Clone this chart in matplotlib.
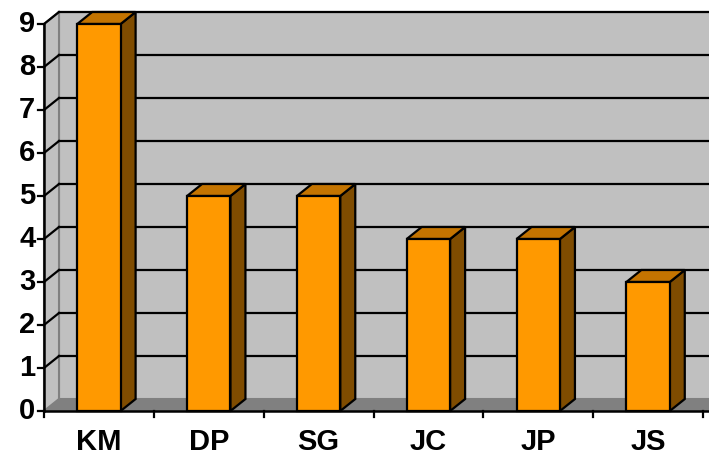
import matplotlib
matplotlib.use('Agg')
import matplotlib.pyplot as plt
from matplotlib.patches import Polygon

plt.rcParams['font.family'] = ['Liberation Sans', 'DejaVu Sans']

# data
names = ['KM', 'DP', 'SG', 'JC', 'JP', 'JS']
values = [9, 5, 5, 4, 4, 3]
yticks = list(range(0, 10))

# colours (Excel 97 style)
front_col = '#FF9900'
top_col = '#C47400'
side_col = '#7F4C00'
wall_col = '#C0C0C0'
floor_col = '#808080'

W, H = 709, 459
fig = plt.figure(figsize=(W / 100, H / 100), dpi=100)
# axes box = front plane of the 3d chart (pixels 44..703 x 24..411)
ax = fig.add_axes([44 / W, (H - 411) / H, 659 / W, 387 / H])
n = len(names)
ymax = 9
ax.set_xlim(0, n)
ax.set_ylim(0, ymax)
ax.axis('off')

# depth offset in data units (15px right, 12px up)
dx = 15 / (659 / n)
dy = 12 / (387 / ymax)

def poly(pts, fc, ec='black', lw=1.6, z=1):
    p = Polygon(pts, closed=True, facecolor=fc, edgecolor=ec, linewidth=lw,
                zorder=z, clip_on=False, joinstyle='miter')
    ax.add_patch(p)

# back wall
poly([(dx, dy), (n + dx + 1, dy), (n + dx + 1, ymax + dy), (dx, ymax + dy)],
     wall_col, ec='#808080', lw=1.5, z=0)
# left wall
poly([(0, 0), (dx, dy), (dx, ymax + dy), (0, ymax)], wall_col, ec='#808080', lw=1.5, z=0)
# floor
poly([(0, 0), (n + 1, 0), (n + 1 + dx, dy), (dx, dy)], floor_col, ec='none', lw=0, z=0.5)

# gridlines on back wall + slanted lines on left wall
for v in yticks[1:]:
    ax.plot([dx, n + dx + 1], [v + dy, v + dy], color='black', lw=1.6, zorder=0.8, clip_on=False)
    ax.plot([0, dx], [v, v + dy], color='black', lw=1.6, zorder=0.8, clip_on=False)

# bars
bw = 0.395
for i, v in enumerate(values):
    x0 = i + 0.5 - bw / 2
    x1 = x0 + bw
    poly([(x1, 0), (x1 + dx, dy), (x1 + dx, v + dy), (x1, v)], side_col, z=2)
    poly([(x0, v), (x1, v), (x1 + dx, v + dy), (x0 + dx, v + dy)], top_col, z=2)
    poly([(x0, 0), (x1, 0), (x1, v), (x0, v)], front_col, z=3)

# axes lines
ax.plot([0, 0], [0, ymax], color='black', lw=1.8, zorder=4, clip_on=False)
ax.plot([0, n + 0.1], [0, 0], color='black', lw=1.8, zorder=4, clip_on=False)

tick_y = 6 / (387 / ymax)
tick_x = 6 / (659 / n)
for v in yticks:
    ax.plot([-tick_x, 0], [v, v], color='black', lw=1.6, zorder=4, clip_on=False)
    ax.text(-tick_x - 0.025, v, str(v), ha='right', va='center', fontsize=21,
            fontweight='bold')
for k in range(n + 1):
    ax.plot([k, k], [0, -tick_y], color='black', lw=1.6, zorder=4, clip_on=False)
for i, name in enumerate(names):
    ax.text(i + 0.5, -0.72, name, ha='center', va='center', fontsize=21,
            fontweight='bold')

fig.savefig('out.png', dpi=100, facecolor='white')
